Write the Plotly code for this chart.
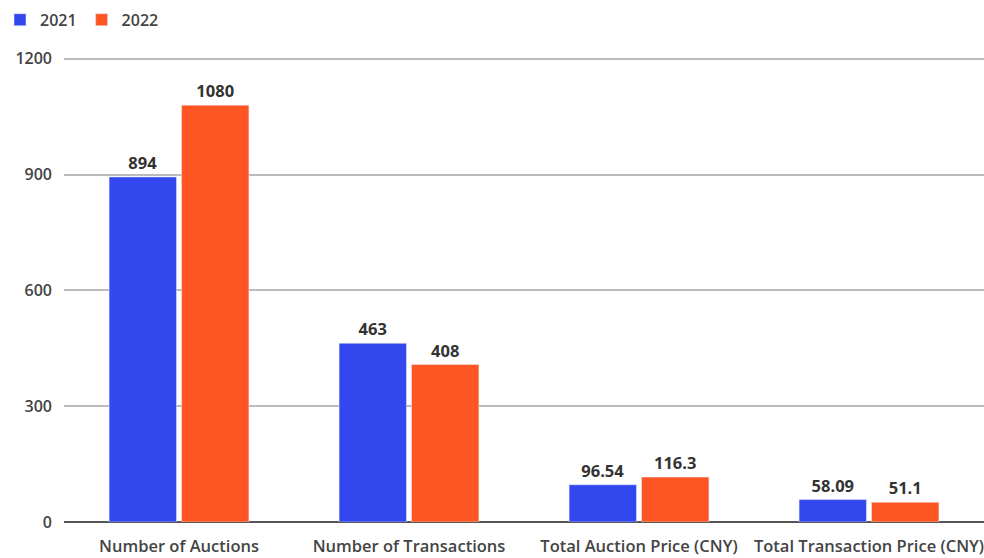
import plotly.graph_objects as go

categories = ["Number of Auctions", "Number of Transactions", "Total Auction Price (CNY)", "Total Transaction Price (CNY)"]
values_2021 = [894, 463, 96.54, 58.09]
values_2022 = [1080, 408, 116.3, 51.1]
labels_2021 = ["894", "463", "96.54", "58.09"]
labels_2022 = ["1080", "408", "116.3", "51.1"]
y_ticks = [0, 300, 600, 900, 1200]

label_font = dict(size=16.5, color="#333333", family="Open Sans", weight="bold")

fig = go.Figure()
fig.add_trace(go.Bar(name="2021", x=categories, y=values_2021, text=labels_2021,
                     textposition="outside", marker_color="#3347EE", cliponaxis=False,
                     textfont=label_font))
fig.add_trace(go.Bar(name="2022", x=categories, y=values_2022, text=labels_2022,
                     textposition="outside", marker_color="#FF5522", cliponaxis=False,
                     textfont=label_font))

fig.update_layout(
    width=984, height=558,
    margin=dict(l=64, r=0, t=55, b=36),
    paper_bgcolor="white", plot_bgcolor="white",
    barmode="group", bargap=0.37, bargroupgap=0.07,
    font=dict(family="Open Sans", size=16, color="#444444"),
    legend=dict(orientation="h", xref="container", yref="container", x=-0.003, y=0.995,
                xanchor="left", yanchor="top",
                font=dict(size=16, color="#444444", weight=600),
                itemwidth=30, traceorder="normal"),
    xaxis=dict(showgrid=False, showline=False, ticks="", ticklabelstandoff=12,
               tickfont=dict(size=16.5, color="#444444", weight=600)),
    yaxis=dict(range=[0, 1210], tickvals=y_ticks, showgrid=True, gridcolor="#BBBBBB", gridwidth=2,
               zeroline=True, zerolinecolor="#555555", zerolinewidth=2,
               ticklabelstandoff=11, tickfont=dict(size=16, color="#444444", weight=600)),
)

fig.write_html("out.html")
